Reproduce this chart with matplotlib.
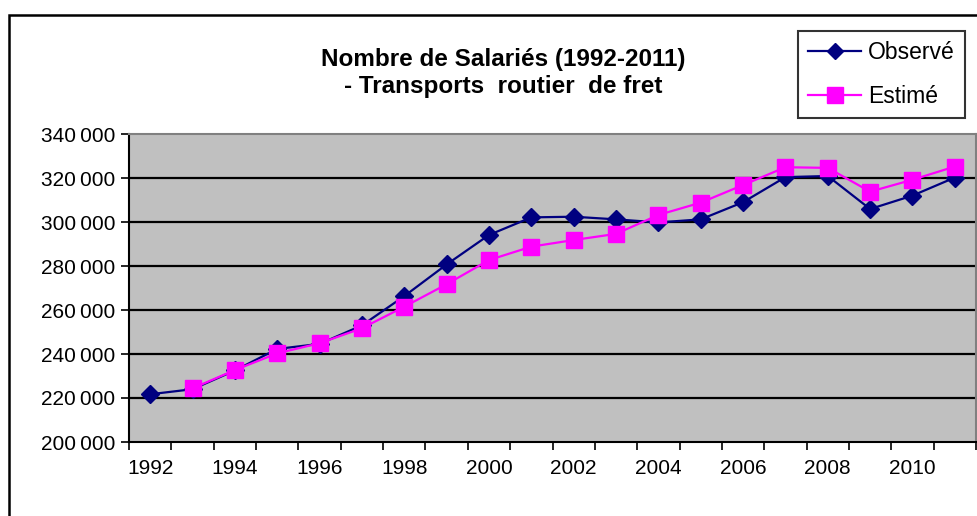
import numpy as np
import matplotlib
matplotlib.use("Agg")
import matplotlib.pyplot as plt
from matplotlib.patches import Rectangle
from matplotlib.ticker import FixedLocator, FuncFormatter

plt.rcParams['font.family'] = ['Liberation Sans', 'DejaVu Sans']

# salariés, transports routiers de fret
years = np.arange(1992, 2012)
observe = [221700, 224000, 232500, 242300, 244600, 253000, 266300, 280700, 294100, 302100,
           302400, 301200, 299800, 301200, 309000, 320400, 320900, 305900, 312000, 320200]
estime = [None, 224400, 232700, 240300, 244900, 251700, 261500, 271700, 282700, 288800,
          291800, 294600, 303200, 308800, 316800, 324900, 324600, 313800, 319200, 325200]
year_labels = [str(y) for y in range(1992, 2012, 2)]

W, H = 977, 516
fig = plt.figure(figsize=(W / 100, H / 100), dpi=100)
fig.patch.set_facecolor('white')

# chart frame (runs off the right and bottom edge)
fig.patches.append(Rectangle((9 / W, -0.1), 1.2, 1 - 15 / H + 0.1, transform=fig.transFigure,
                             fill=False, edgecolor='black', linewidth=1.8, zorder=0))

ax = fig.add_axes([129 / W, (H - 442) / H, (976 - 129) / W, (442 - 134) / H])
ax.set_facecolor('#c0c0c0')

est = np.array([np.nan if v is None else v for v in estime], dtype=float)
ax.plot(years, observe, color='#000080', lw=1.6, marker='D', ms=9,
        mec='#000080', mfc='#000080', label='Observé', zorder=3)
ax.plot(years, est, color='#ff00ff', lw=1.6, marker='s', ms=12,
        mec='#ff00ff', mfc='#ff00ff', label='Estimé', zorder=4)

ax.set_xlim(1991.5, 2011.5)
ax.set_ylim(200000, 340000)
ax.yaxis.set_major_locator(FixedLocator(np.arange(200000, 340001, 20000)))
ax.yaxis.set_major_formatter(FuncFormatter(lambda v, p: f"{int(v):,}".replace(",", "\u2009")))
ax.set_xticks(range(1992, 2012, 2))
ax.set_xticklabels(year_labels)
ax.set_xticks(np.arange(1991.5, 2012, 1), minor=True)
ax.tick_params(axis='x', which='major', length=0, pad=12, labelsize=15)
ax.tick_params(axis='x', which='minor', length=6, width=1.2, direction='out')
ax.tick_params(axis='y', length=6, width=1.2, labelsize=15, pad=4)

for v in range(220000, 340000, 20000):
    ax.axhline(v, color='black', lw=1.6, zorder=1)

for s in ('top', 'right'):
    ax.spines[s].set_color('#808080')
    ax.spines[s].set_linewidth(1.5)
for s in ('left', 'bottom'):
    ax.spines[s].set_color('black')
    ax.spines[s].set_linewidth(1.5)

fig.text(503 / W, 1 - 73 / H, "Nombre de Salariés (1992-2011)\n- Transports  routier  de fret",
         ha='center', va='center', fontsize=17.5, fontweight='bold', linespacing=1.25)

leg = ax.legend(loc='upper left', bbox_to_anchor=(798 / W, 1 - 31 / H),
                bbox_transform=fig.transFigure, fontsize=16.5, frameon=True, fancybox=False,
                handlelength=2.3, handletextpad=0.3, borderpad=0.45, labelspacing=0.9,
                borderaxespad=0, markerscale=0.95)
leg.get_frame().set_edgecolor('black')
leg.get_frame().set_linewidth(1.5)
leg.get_frame().set_facecolor('white')

fig.savefig('out.png', dpi=100)
